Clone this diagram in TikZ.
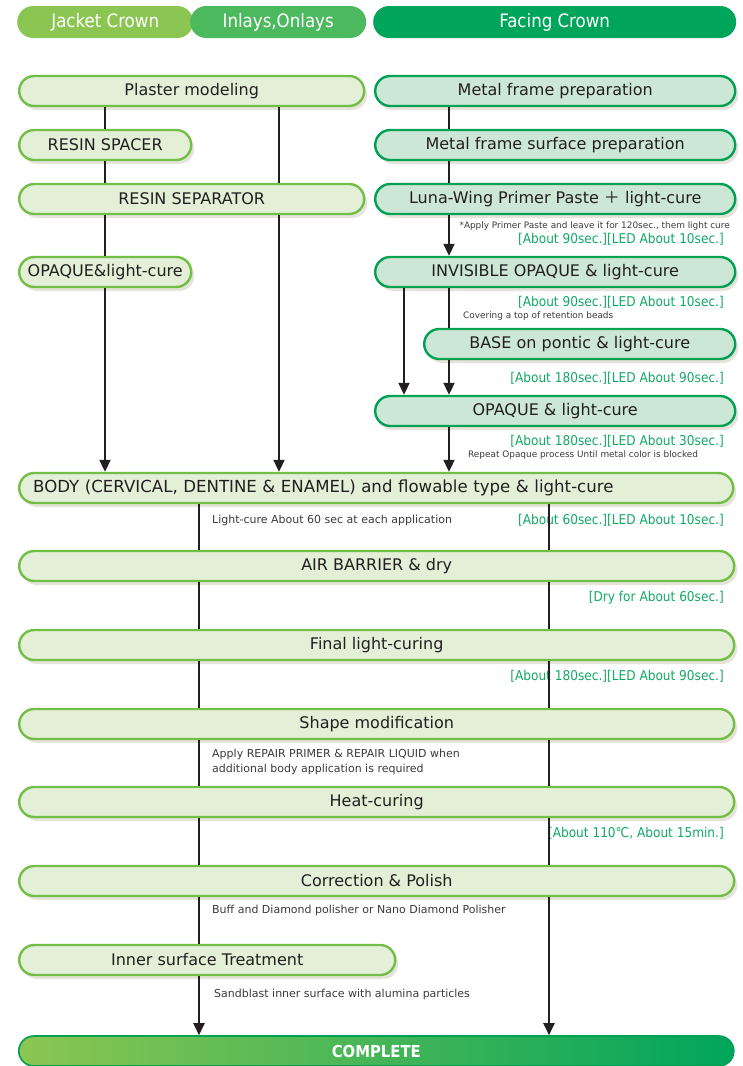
\documentclass[tikz,border=0pt]{standalone}
\usepackage{fontspec}
\setmainfont{DejaVu Sans}
\newfontfamily\condf{DejaVu Sans Condensed}
\newfontfamily\cjkf{Noto Sans CJK JP}
\usetikzlibrary{arrows.meta,shadows}

\definecolor{jacketc}{HTML}{8CC652}
\definecolor{inlayc}{HTML}{4DB95E}
\definecolor{facingc}{HTML}{00A55C}
\definecolor{jfill}{HTML}{E3EFD6}
\definecolor{jline}{HTML}{72BF48}
\definecolor{ffill}{HTML}{CDE7D6}
\definecolor{fline}{HTML}{00A153}
\definecolor{shade}{HTML}{E6E3DA}
\definecolor{txt}{HTML}{231F20}
\definecolor{notec}{HTML}{3A3A3A}
\definecolor{tgreen}{HTML}{12A865}

\tikzset{
  boxbase/.style={rounded corners=15pt, line width=2.4pt, minimum height=30pt,
    inner xsep=4pt, inner ysep=0pt, text=txt, font=\fontsize{16}{18}\selectfont,
    drop shadow={shadow xshift=3pt, shadow yshift=-4pt, fill=shade, opacity=1}},
  lbox/.style={boxbase, draw=jline, fill=jfill, anchor=west},
  rbox/.style={boxbase, draw=fline, fill=ffill, anchor=west},
  head/.style={rounded corners=16pt, minimum height=32pt, inner sep=0pt, anchor=west,
    text=white, font=\condf\fontsize{18.5}{20}\selectfont},
  note/.style={anchor=west, inner sep=0pt, text=notec, align=left,
    font=\fontsize{11}{15}\selectfont},
  snote/.style={inner sep=0pt, text=notec, font=\fontsize{8.9}{10}\selectfont},
  timing/.style={anchor=east, inner sep=0pt, text=tgreen,
    font=\condf\fontsize{13.5}{15}\selectfont},
  flow/.style={line width=2pt, draw=txt},
  flowarr/.style={flow, -{Triangle[width=11pt,length=12pt]}},
}

\begin{document}
\begin{tikzpicture}[x=1pt,y=-1pt]
    \useasboundingbox (0,0) rectangle (743,1066);

    \path ( 17,22) node [head, fill=jacketc, minimum width=176] (hj) {Jacket Crown};
    \path (190,22) node [head, fill=inlayc,  minimum width=176] (hi) {Inlays,Onlays};
    \path (373,22) node [head, fill=facingc, minimum width=363] (hf) {Facing Crown};

    \path (18, 91) node [lbox, minimum width=345] (plaster)   {Plaster modeling};
    \path (18,145) node [lbox, minimum width=172] (spacer)    {RESIN SPACER};
    \path (18,199) node [lbox, minimum width=345] (separator) {RESIN SEPARATOR};
    \path (18,272) node [lbox, minimum width=172, inner xsep=1pt] (opaquel) {OPAQUE\&light-cure};

    \path (374, 91) node [rbox, minimum width=360] (metal)     {Metal frame preparation};
    \path (374,145) node [rbox, minimum width=360] (surface)   {Metal frame surface preparation};
    \path (374,199) node [rbox, minimum width=360] (primer)    {Luna-Wing Primer Paste {\cjkf ＋} light-cure};
    \path (374,272) node [rbox, minimum width=360] (invisible) {INVISIBLE OPAQUE \& light-cure};
    \path (423,344) node [rbox, minimum width=311] (base)      {BASE on pontic \& light-cure};
    \path (374,411) node [rbox, minimum width=360] (opaquer)   {OPAQUE \& light-cure};

    \path (18,488) node [lbox, text width=686, inner xsep=14pt, align=left,
      font=\fontsize{16.6}{18}\selectfont] (body)
      {BODY (CERVICAL, DENTINE \& ENAMEL) and flowable type \& light-cure};
    \path (18,566) node [lbox, minimum width=715] (air)    {AIR BARRIER \& dry};
    \path (18,645) node [lbox, minimum width=715] (final)  {Final light-curing};
    \path (18,724) node [lbox, minimum width=715] (shape)  {Shape modification};
    \path (18,802) node [lbox, minimum width=715] (heat)   {Heat-curing};
    \path (18,881) node [lbox, minimum width=715] (polish) {Correction \& Polish};
    \path (18,960) node [lbox, minimum width=376] (inner)  {Inner surface Treatment};

    \path (18,1051) node [anchor=west, minimum width=715, minimum height=30pt, rounded corners=15pt,
      left color=jacketc, middle color=inlayc, right color=facingc, draw=fline, line width=1.6pt,
      text=white, font=\condf\bfseries\fontsize{16.5}{18}\selectfont] (complete) {COMPLETE};

    \path (730,226) node [snote, anchor=east] (n1) {*Apply Primer Paste and leave it for 120sec., them light cure};
    \path (463,316) node [snote, anchor=west] (n2) {Covering a top of retention beads};
    \path (468,455) node [snote, anchor=west] (n3) {Repeat Opaque process Until metal color is blocked};
    \path (212,520) node [note] (n4) {Light-cure About 60 sec at each application};
    \path (212,762) node [note] (n5) {Apply REPAIR PRIMER \& REPAIR LIQUID when\\additional body application is required};
    \path (212,910) node [note] (n6) {Buff and Diamond polisher or Nano Diamond Polisher};
    \path (214,994) node [note] (n7) {Sandblast inner surface with alumina particles};

    \path (724,239) node [timing] (t1) {[About 90sec.][LED About 10sec.]};
    \path (724,302) node [timing] (t2) {[About 90sec.][LED About 10sec.]};
    \path (724,378) node [timing] (t3) {[About 180sec.][LED About 90sec.]};
    \path (724,441) node [timing] (t4) {[About 180sec.][LED About 30sec.]};
    \path (724,520) node [timing] (t5) {[About 60sec.][LED About 10sec.]};
    \path (724,598) node [timing] (t6) {[Dry for About 60sec.]};
    \path (724,676) node [timing] (t7) {[About 180sec.][LED About 90sec.]};
    \path (724,833) node [timing] (t8) {[About 110℃, About 15min.]};

    \coordinate (ca) at (105,0);
    \coordinate (cb) at (279,0);
    \coordinate (cc) at (449,0);
    \coordinate (cd) at (404,0);
    \coordinate (ce) at (199,0);
    \coordinate (cf) at (549,0);

    \foreach \a/\b in {plaster/spacer, spacer/separator, separator/opaquel}
      \draw [flow] (\a.south -| ca) -- (\b.north -| ca);
    \draw [flowarr] (opaquel.south -| ca) -- (body.north -| ca);
    \draw [flow] (plaster.south -| cb) -- (separator.north -| cb);
    \draw [flowarr] (separator.south -| cb) -- (body.north -| cb);

    \draw [flow] (metal.south -| cc) -- (surface.north -| cc);
    \draw [flow] (surface.south -| cc) -- (primer.north -| cc);
    \draw [flowarr] (primer.south -| cc) -- (invisible.north -| cc);
    \draw [flow] (invisible.south -| cc) -- (base.north -| cc);
    \draw [flowarr] (base.south -| cc) -- (opaquer.north -| cc);
    \draw [flowarr] (invisible.south -| cd) -- (opaquer.north -| cd);
    \draw [flowarr] (opaquer.south -| cc) -- (body.north -| cc);

    \foreach \a/\b in {body/air, air/final, final/shape, shape/heat, heat/polish, polish/inner}
      \draw [flow] (\a.south -| ce) -- (\b.north -| ce);
    \draw [flowarr] (inner.south -| ce) -- (complete.north -| ce);
    \foreach \a/\b in {body/air, air/final, final/shape, shape/heat, heat/polish}
      \draw [flow] (\a.south -| cf) -- (\b.north -| cf);
    \draw [flowarr] (polish.south -| cf) -- (complete.north -| cf);
\end{tikzpicture}
\end{document}
